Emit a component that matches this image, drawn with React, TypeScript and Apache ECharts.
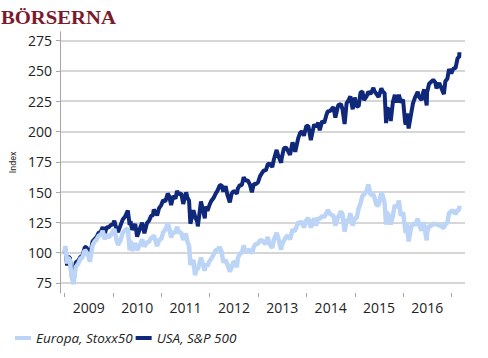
import React, { useEffect, useRef } from "react";
import * as echarts from "echarts";

const dates: string[] = [
  "2008-12-31","2009-01-06","2009-01-20","2009-01-28","2009-02-09","2009-02-23","2009-03-09","2009-03-26","2009-04-14","2009-04-30",
  "2009-05-15","2009-06-02","2009-06-12","2009-06-30","2009-07-10","2009-07-31","2009-08-14","2009-08-31","2009-09-15","2009-09-30",
  "2009-10-15","2009-10-30","2009-11-13","2009-11-27","2009-12-15","2009-12-31","2010-01-11","2010-01-29","2010-02-08","2010-02-26",
  "2010-03-15","2010-03-31","2010-04-23","2010-05-07","2010-05-13","2010-05-25","2010-06-18","2010-07-02","2010-07-30","2010-08-09",
  "2010-08-26","2010-09-15","2010-09-30","2010-10-15","2010-10-29","2010-11-05","2010-11-30","2010-12-15","2010-12-31","2011-01-14",
  "2011-01-31","2011-02-18","2011-02-28","2011-03-16","2011-03-31","2011-04-18","2011-04-29","2011-05-13","2011-05-31","2011-06-15",
  "2011-06-30","2011-07-07","2011-07-18","2011-07-29","2011-08-08","2011-08-31","2011-09-12","2011-09-30","2011-10-03","2011-10-27",
  "2011-11-25","2011-11-30","2011-12-15","2011-12-30","2012-01-13","2012-01-31","2012-02-15","2012-02-29","2012-03-16","2012-03-30",
  "2012-04-13","2012-04-30","2012-05-15","2012-06-01","2012-06-15","2012-06-29","2012-07-13","2012-07-24","2012-07-31","2012-08-15",
  "2012-08-31","2012-09-14","2012-09-28","2012-10-15","2012-10-31","2012-11-15","2012-11-30","2012-12-14","2012-12-31","2013-01-15",
  "2013-01-31","2013-02-15","2013-02-28","2013-03-15","2013-03-28","2013-04-18","2013-04-30","2013-05-21","2013-05-31","2013-06-24",
  "2013-06-28","2013-07-15","2013-07-31","2013-08-15","2013-08-30","2013-09-18","2013-09-30","2013-10-08","2013-10-31","2013-11-15",
  "2013-11-29","2013-12-13","2013-12-31","2014-01-15","2014-02-03","2014-02-28","2014-03-14","2014-03-31","2014-04-11","2014-04-30",
  "2014-05-15","2014-05-30","2014-06-10","2014-06-30","2014-07-24","2014-08-07","2014-08-29","2014-09-18","2014-09-30","2014-10-16",
  "2014-10-31","2014-11-14","2014-11-28","2014-12-16","2014-12-31","2015-01-15","2015-01-30","2015-02-13","2015-02-27","2015-03-11",
  "2015-03-31","2015-04-13","2015-04-30","2015-05-21","2015-05-29","2015-06-15","2015-06-30","2015-07-20","2015-07-31","2015-08-14",
  "2015-08-25","2015-08-31","2015-09-15","2015-09-29","2015-10-15","2015-10-30","2015-11-13","2015-11-30","2015-12-14","2015-12-31",
  "2016-01-15","2016-01-20","2016-01-29","2016-02-11","2016-02-29","2016-03-15","2016-03-31","2016-04-20","2016-04-29","2016-05-19",
  "2016-05-31","2016-06-08","2016-06-27","2016-06-30","2016-07-15","2016-07-29","2016-08-15","2016-08-31","2016-09-09","2016-09-30",
  "2016-10-14","2016-11-04","2016-11-15","2016-11-30","2016-12-13","2016-12-30","2017-01-15","2017-01-31","2017-02-15","2017-02-28",
  "2017-03-01"
];

const usa: number[] = [
  100,103.4,89.5,96.5,96,82,75,92,93.5,96.5,
  97.5,104.5,104.7,101.7,97.3,109.3,111,113,116.5,117,
  121.3,114.7,121,120.8,122.7,123.4,126.3,119,117,122.3,
  127.3,129.4,134.7,122.9,126,118.9,123.7,113.2,122,124.8,
  116,124.6,126.3,130.2,131,135.6,130.8,136.8,139.3,143.2,
  142.4,148.7,146.9,139.2,146.8,144.5,151,148.1,148.9,140.2,
  146.3,149.8,145,143,123.9,135,130,125.2,121.7,142.3,
  128.3,138,134.6,139.3,142.7,145.3,148.7,151.2,155.3,155.9,
  150.4,154.8,147.2,141.5,148.7,150.8,150.1,148.5,152.7,155.6,
  155.7,162.3,159.5,159.5,156.3,149.8,156.8,156.5,157.9,163,
  165.8,168.2,167.7,172.8,173.7,170.6,176.9,184.8,180.6,174.2,
  177.8,186.3,186.7,183.9,180.8,191,186.2,183.3,194.5,199,
  200,196.5,204.6,204.6,192.9,205.8,203.8,207.3,201,208.6,
  207,213,216.5,217,220.1,211.4,221.7,222.6,218.3,206.2,
  223.4,225.7,229,218.3,228,220.6,220.9,232.2,233,225.9,
  229,232.8,230.9,235.9,233.3,230.7,228.4,235.6,232.9,231.6,
  206.8,218.3,219,208.6,224,230.2,224,230.3,223.9,226.3,
  208.1,205.8,214.8,202.5,213.9,223.1,228.1,232.7,228.6,225.9,
  232.2,234.6,221.5,232.4,239.4,240.7,242.6,240.4,235.6,240,
  236.2,230.8,241.4,243.4,251.4,247.9,251.9,252.3,260.2,261.7,
  265.3
];

const europa: number[] = [
  100,105.5,91,96,94,80,74,88,91,95,
  96,102,101,97,92.5,106,109,111,114,114.5,
  118,111,115,112.5,114.5,117.5,119.5,110,106.5,110,
  116,118.5,120,102,110,101.5,108,102,108,111,
  105,108.5,109,112,112.5,114.5,105.5,110.5,111.5,116.5,
  119,124,121,112.5,117.5,116,121.5,117,116.5,110.5,
  115.5,114.5,108.5,106,90,94,81.5,88.5,86,96,
  85,91,89,93,95,98.5,102,102.5,104.5,101,
  92,94,90,84.5,88,92.5,92,88,95,99.5,
  99.5,106,100,102,102,99.5,105,107,107.5,110,
  110.3,108,107.4,113,107,104,110.6,116.3,113,102.4,
  106.2,110,113,114.2,111,119,118,118.5,125,124.5,
  125.9,120.7,126.8,128.5,120.7,128.5,122.4,129,127.7,130.5,
  129.3,132.3,135.2,131.7,130.5,122.4,129.4,134.2,131.6,117.3,
  127,126.5,132.6,122.4,128.3,128.5,136.7,140.7,146.8,148,
  150.8,156.2,147.5,148,145.6,138.7,139.7,149.7,146.9,140.7,
  123.2,133.4,130.5,123.2,130.5,139.4,137,143,130.5,133.3,
  120.3,116.3,124.2,109.3,120.2,124.4,122.6,128.1,123.5,118.3,
  124.9,122.4,110.1,116.8,122,122,124,123.3,123.6,122.5,
  122,120.3,123.6,124.5,132.6,134.2,134.6,131.8,135,135.4,
  138.7
];

const yTicks: number[] = [75, 100, 125, 150, 175, 200, 225, 250, 275];
const yearTicks: number[] = [2009, 2010, 2011, 2012, 2013, 2014, 2015, 2016, 2017];
const yearLabels: number[] = [2009.5, 2010.5, 2011.5, 2012.5, 2013.5, 2014.5, 2015.5, 2016.5];

const seriesNames = ["Europa, Stoxx50", "USA, S&P 500"];

function toYear(d: string): number {
  const [y, m, dd] = d.split("-").map(Number);
  const start = Date.UTC(y, 0, 1);
  const end = Date.UTC(y + 1, 0, 1);
  return y + (Date.UTC(y, m - 1, dd) - start) / (end - start);
}

export default function App() {
  const ref = useRef<HTMLDivElement>(null);
  useEffect(() => {
    if (!ref.current) return;
    const chart = echarts.init(ref.current, null, { renderer: "svg" });
    const font = "Open Sans";
    const usaData = dates.map((d, i) => [toYear(d), usa[i]]);
    const euData = dates.map((d, i) => [toYear(d), europa[i]]);
    chart.setOption({
      animation: false,
      grid: { left: 52.5, right: 23, top: 31.7, bottom: 65, containLabel: false },
      graphic: [
        {
          type: "text",
          x: 1,
          y: 9,
          scaleX: 1.15,
          style: {
            text: "BÖRSERNA",
            font: 'bold 18px "Liberation Serif"',
            fill: "#7b1a2c",
            textVerticalAlign: "top",
          },
        },
      ],
      legend: {
        left: 10,
        top: 326,
        itemWidth: 16,
        itemHeight: 4,
        itemGap: 3,
        icon: "rect",
        data: seriesNames,
        textStyle: { fontSize: 13.5, fontStyle: "italic", fontFamily: font, color: "#222" },
      },
      xAxis: {
        type: "value",
        min: 2008.9025,
        max: 2017.278,
        axisLine: { show: false },
        axisTick: { show: true, length: 4, customValues: yearTicks, lineStyle: { color: "#a6a6a6" } },
        axisLabel: {
          customValues: yearLabels,
          formatter: (v: number) => String(Math.floor(v)),
          fontSize: 14,
          fontFamily: font,
          color: "#222",
          margin: 7,
        },
        splitLine: { show: false },
      },
      yAxis: {
        type: "value",
        min: 66.75,
        max: 282.3,
        name: "Index",
        nameLocation: "middle",
        nameGap: 34,
        nameTextStyle: { fontSize: 9, fontFamily: "Roboto", color: "#222" },
        axisLine: { show: true, lineStyle: { color: "#a6a6a6" } },
        axisTick: { show: true, length: 4, customValues: yTicks, lineStyle: { color: "#a6a6a6" } },
        axisLabel: { customValues: yTicks, fontSize: 14, fontFamily: font, color: "#222", margin: 8 },
        splitLine: { show: true, lineStyle: { color: "#c8c8c8", width: 1.5 } },
      },
      series: [
        {
          name: seriesNames[1],
          type: "line",
          data: usaData,
          symbol: "none",
          color: "#10287a",
          lineStyle: { width: 4, color: "#10287a" },
          itemStyle: { color: "#10287a" },
        },
        {
          name: seriesNames[0],
          type: "line",
          data: euData,
          symbol: "none",
          color: "#bcd5f7",
          lineStyle: { width: 4.5, color: "#bcd5f7" },
          itemStyle: { color: "#bcd5f7" },
        },
      ],
    });
    return () => chart.dispose();
  }, []);
  return (
    <div
      ref={ref}
      style={{ position: "absolute", left: 0, top: 0, width: 488, height: 358 }}
    />
  );
}
